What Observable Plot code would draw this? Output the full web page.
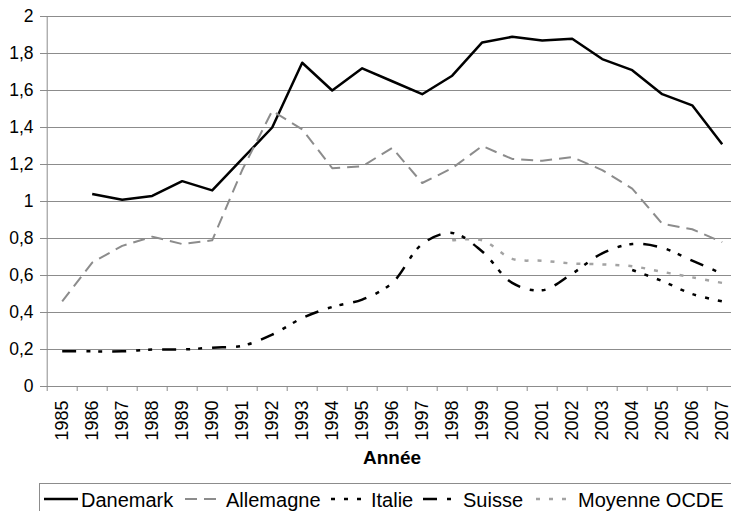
<!DOCTYPE html>
<html>
<head>
<meta charset="utf-8">
<script src="https://cdn.jsdelivr.net/npm/d3@7"></script>
<script src="https://cdn.jsdelivr.net/npm/@observablehq/plot@0.6"></script>
<style>
  html, body { margin: 0; padding: 0; background: #fff; }
  body { position: relative; width: 731px; height: 511px; overflow: hidden; font-family: "Liberation Sans", Arial, sans-serif; }
  #chart svg { display: block; }
  #legend { position: absolute; left: 0; top: 483px; }
</style>
</head>
<body>
<div id="chart"></div>
<svg id="legend" width="731" height="28"></svg>
<script>
const years = [1985,1986,1987,1988,1989,1990,1991,1992,1993,1994,1995,1996,1997,1998,1999,2000,2001,2002,2003,2004,2005,2006,2007];
const danemark  = [null,1.04,1.01,1.03,1.11,1.06,1.23,1.40,1.75,1.60,1.72,1.65,1.58,1.68,1.86,1.89,1.87,1.88,1.77,1.71,1.58,1.52,1.31];
const allemagne = [0.46,0.67,0.76,0.81,0.77,0.79,1.17,1.49,1.39,1.18,1.19,1.29,1.10,1.18,1.30,1.23,1.22,1.24,1.17,1.07,0.88,0.85,0.78];
const italie    = [null,null,null,null,null,null,null,null,null,null,null,null,null,null,null,null,null,null,null,0.63,0.57,0.50,0.46];
const suisse    = [0.19,0.19,0.19,0.20,0.20,0.21,0.22,0.28,0.37,0.43,0.47,0.56,0.77,0.83,0.73,0.56,0.52,0.61,0.72,0.77,0.75,0.68,0.61];
const ocde      = [null,null,null,null,null,null,null,null,null,null,null,null,null,0.79,0.79,0.69,0.68,0.665,0.66,0.65,0.62,0.59,0.56];
const seriesNames = ["Danemark","Allemagne","Italie","Suisse","Moyenne OCDE"];
const yTicks = [0,0.2,0.4,0.6,0.8,1,1.2,1.4,1.6,1.8,2];
const xTitle = "Année";

const seriesValues = [danemark, allemagne, italie, suisse, ocde];
const styles = [
  {stroke: "#000", strokeWidth: 2.5, dash: null, curve: "linear"},
  {stroke: "#8c8c8c", strokeWidth: 2, dash: "12,7", curve: "linear"},
  {stroke: "#000", strokeWidth: 2.5, dash: "4,9", curve: "catmull-rom"},
  {stroke: "#000", strokeWidth: 2.5, dash: "14,10,4,8,4,10", curve: "catmull-rom"},
  {stroke: "#a3a3a3", strokeWidth: 2.5, dash: "4,9", curve: "catmull-rom"}
];

const tables = seriesValues.map((vals, i) =>
  years.map((yr, j) => ({year: yr, value: vals[j], series: seriesNames[i]})).filter(d => d.value != null)
);
const boundaries = [years[0] - 0.5, ...years.map(y => y + 0.5)];
const fmt = d => String(Math.round(d * 10) / 10).replace(".", ",");

const lineMarks = tables.map((t, i) => Plot.line(t, {
  x: "year", y: "value",
  stroke: styles[i].stroke, strokeWidth: styles[i].strokeWidth,
  strokeDasharray: styles[i].dash, curve: styles[i].curve,
  strokeLinecap: "butt", strokeLinejoin: "round"
}));

const chart = Plot.plot({
  width: 731, height: 480,
  marginTop: 16, marginBottom: 94, marginLeft: 46, marginRight: 0,
  style: {fontFamily: "Liberation Sans, Arial, sans-serif", color: "#000", background: "#fff"},
  x: {type: "linear", domain: [years[0] - 0.5, years[years.length - 1] + 0.5], range: [46.7, 736.7]},
  y: {domain: [0, 2]},
  marks: [
    Plot.ruleY(yTicks, {stroke: "#8c8c8c", strokeWidth: 1}),
    Plot.ruleX([boundaries[0]], {y1: 0, y2: 2, stroke: "#8c8c8c", strokeWidth: 1}),
    Plot.axisY({ticks: yTicks, tickFormat: fmt, tickSize: 6, tickPadding: 7, stroke: "#8c8c8c", fontSize: 17.5, label: null}),
    Plot.axisX({ticks: boundaries, tickSize: 5, tickFormat: () => "", stroke: "#8c8c8c", label: null}),
    Plot.axisX({ticks: years, tickSize: 0, tickPadding: 14, tickRotate: -90, tickFormat: d => String(d), fontSize: 18, label: null}),
    Plot.text([xTitle], {frameAnchor: "bottom", dy: 77, dx: 3, fontWeight: "bold", fontSize: 19, fill: "#000"}),
    ...lineMarks
  ]
});
document.getElementById("chart").appendChild(chart);

// Legend
const legend = d3.select("#legend");
legend.append("rect").attr("x", 39.5).attr("y", 0.5).attr("width", 720).attr("height", 40)
  .attr("fill", "none").attr("stroke", "#8c8c8c").attr("stroke-width", 1);
const sampleX = [44, 185, 331, 423, 536];
const textX = [81, 226, 371, 463, 578];
seriesNames.forEach((name, i) => {
  const s = styles[i];
  legend.append("line").attr("x1", sampleX[i]).attr("x2", sampleX[i] + 34).attr("y1", 16).attr("y2", 16)
    .attr("stroke", s.stroke).attr("stroke-width", s.strokeWidth)
    .attr("stroke-dasharray", s.dash);
  legend.append("text").attr("x", textX[i]).attr("y", 23.5).attr("font-size", 20)
    .attr("font-family", "Liberation Sans, Arial, sans-serif").attr("fill", "#000").text(name);
});
</script>
</body>
</html>
